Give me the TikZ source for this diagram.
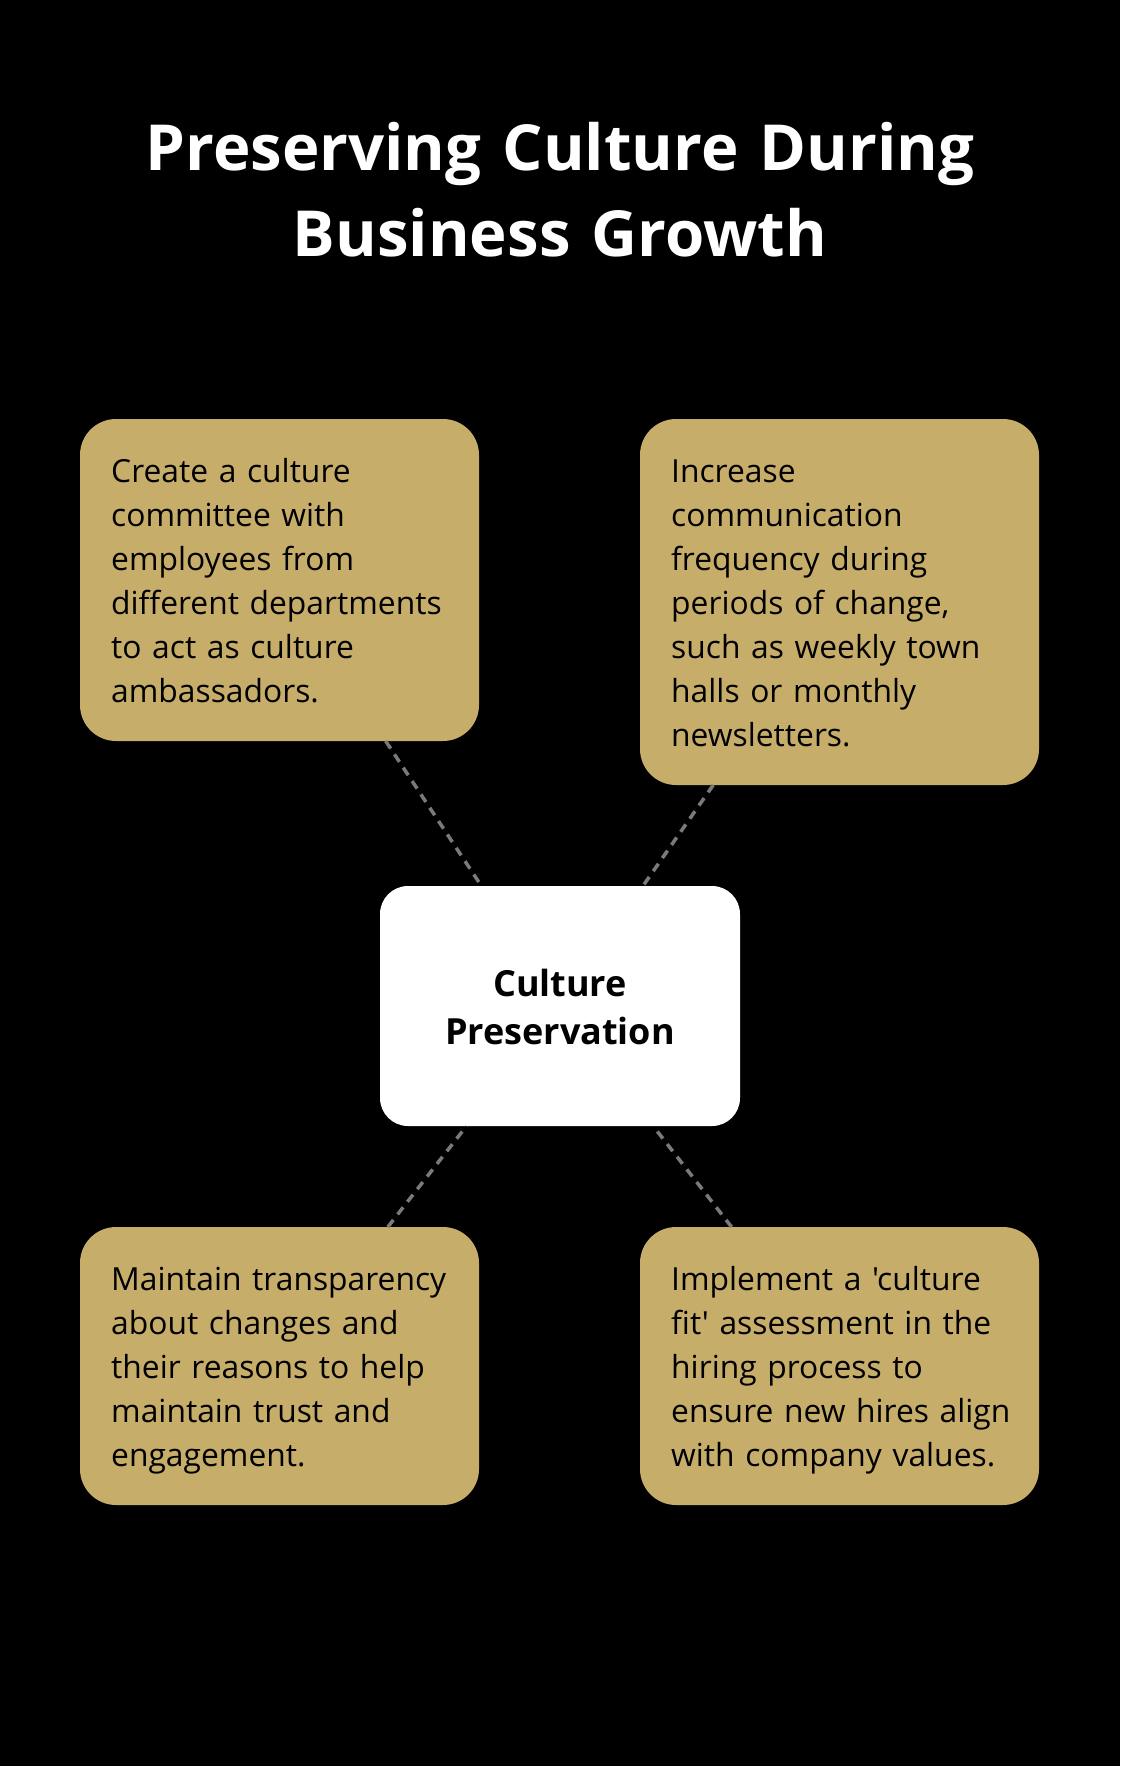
\documentclass[tikz,border=0pt]{standalone}
\usepackage{fontspec}
\setmainfont{Open Sans}
\newfontfamily\osans{Open Sans}
\definecolor{gold}{HTML}{C6AD6A}
\definecolor{conngray}{HTML}{7A7A7A}
\begin{document}
\begin{tikzpicture}[x=1pt,y=-1pt,
  goldbox/.style={draw=none,fill=gold,rounded corners=36pt,minimum width=399pt,inner sep=0pt,outer sep=0pt},
  centerbox/.style={draw=none,fill=white,rounded corners=28pt,minimum width=360pt,minimum height=240pt,inner sep=0pt,outer sep=0pt},
  bodytext/.style={anchor=base west,inner sep=0pt,text width=400pt,align=left,font=\osans\fontsize{31.8}{44}\selectfont,text=black},
  conn/.style={draw=conngray,line width=3.5pt,dash pattern=on 9pt off 7pt}]
\fill[black] (0,0) rectangle (1120,1766);
\useasboundingbox (0,0) rectangle (1120,1766);

\node[anchor=base,inner sep=0pt,text width=1000pt,align=center,text=white,font=\fontsize{63.5}{86}\selectfont\bfseries] (title) at (560,170) {Preserving Culture During\\Business Growth};

\node[goldbox,minimum height=322pt] (tl) at (279.5,580) {};
\node[goldbox,minimum height=366pt] (tr) at (839.5,602) {};
\node[goldbox,minimum height=278pt] (bl) at (279.5,1366) {};
\node[goldbox,minimum height=278pt] (br) at (839.5,1366) {};
\node[centerbox] (ctr) at (560,1006) {};

\draw[conn] (tl) -- (ctr);
\draw[conn] (tr) -- (ctr);
\draw[conn] (bl) -- (ctr);
\draw[conn] (br) -- (ctr);

\node[bodytext] (tltext) at (111,482) {Create a culture\\committee with\\employees from\\different departments\\to act as culture\\ambassadors.};
\node[bodytext] (trtext) at (671,482) {Increase\\communication\\frequency during\\periods of change,\\such as weekly town\\halls or monthly\\newsletters.};
\node[bodytext] (bltext) at (111,1290) {Maintain transparency\\about changes and\\their reasons to help\\maintain trust and\\engagement.};
\node[bodytext] (brtext) at (671,1290) {Implement a 'culture\\fit' assessment in the\\hiring process to\\ensure new hires align\\with company values.};

\node[anchor=base,inner sep=0pt,text width=340pt,align=center,text=black,font=\fontsize{36}{48}\selectfont\bfseries] (ctrtext) at (560,996) {Culture\\Preservation};
\end{tikzpicture}
\end{document}
